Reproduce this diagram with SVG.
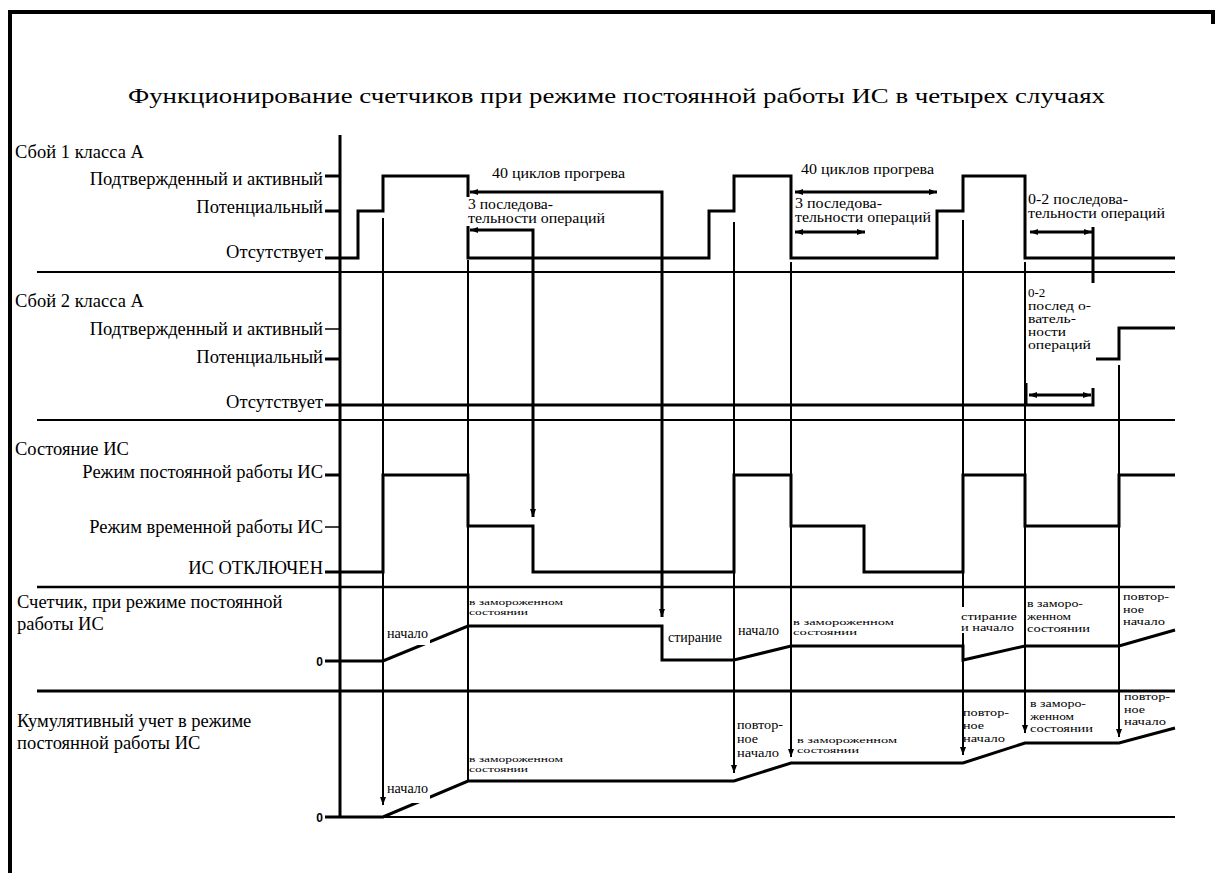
<svg xmlns="http://www.w3.org/2000/svg" width="1216" height="873" viewBox="0 0 1216 873">
<style>
text{font-family:"Liberation Serif","Times New Roman",serif;fill:#000}
.ttl{font-size:22px}
.lb{font-size:18.5px}
.an{font-size:15px}
.nt{font-size:13px}
.sm{font-size:14px}
.xs{font-size:11px}
.t2{font-size:9.5px}
.tn{font-size:8.5px}
.z{font-family:"Liberation Sans",Arial,sans-serif;font-size:12px;font-weight:bold}
.sig{fill:none;stroke:#000;stroke-width:3}
.sep{stroke:#000;stroke-width:2}
.sepb{stroke:#000;stroke-width:3}
.tk{stroke:#000;stroke-width:3}
.tk1{stroke:#000;stroke-width:1.5}
.v{fill:none;stroke:#000;stroke-width:2}
.vb{fill:none;stroke:#000;stroke-width:3}
.wb{fill:#fff}
</style>
<defs>
<marker id="ah" viewBox="0 0 8 6" refX="8" refY="3" markerWidth="8" markerHeight="6" markerUnits="userSpaceOnUse" orient="auto-start-reverse">
<path d="M0,0 L8,3 L0,6 z" fill="#000"/>
</marker>
</defs>
<rect width="1216" height="873" fill="#fff"/>

<g id="frame">
<path d="M10,873 V12 H1213 V24" fill="none" stroke="#000" stroke-width="4"/>
</g>

<g id="title">
<text class="ttl" x="128" y="103" textLength="977" lengthAdjust="spacingAndGlyphs">Функционирование счетчиков при режиме постоянной работы ИС в четырех случаях</text>
</g>

<g id="axis">
<line x1="340" y1="135" x2="340" y2="817" stroke="#000" stroke-width="3"/>
</g>

<g id="row-fault1">
<line class="sep" x1="37" y1="272" x2="1175" y2="272"/>
<text class="lb" x="15" y="158">Сбой 1 класса A</text>
<text class="lb" x="323" y="185" text-anchor="end">Подтвержденный и активный</text>
<text class="lb" x="323" y="213" text-anchor="end">Потенциальный</text>
<text class="lb" x="323" y="258" text-anchor="end">Отсутствует</text>
<line class="tk" x1="325" y1="176" x2="340" y2="176"/>
<line class="tk" x1="325" y1="211" x2="340" y2="211"/>
<path class="sig" d="M325,258 H358 V211 H383 V176 H468 V258 H709 V211 H734 V176 H791 V258 H937 V211 H963 V176 H1025 V258 H1175"/>
</g>

<g id="row-fault2">
<line class="sep" x1="37" y1="420" x2="1175" y2="420"/>
<text class="lb" x="15" y="307">Сбой 2 класса A</text>
<text class="lb" x="323" y="335" text-anchor="end">Подтвержденный и активный</text>
<text class="lb" x="323" y="363" text-anchor="end">Потенциальный</text>
<text class="lb" x="323" y="408" text-anchor="end">Отсутствует</text>
<line class="tk1" x1="325" y1="329" x2="340" y2="329"/>
<line class="tk" x1="325" y1="359" x2="340" y2="359"/>
<path class="sig" d="M325,405 H1093 V388"/>
<path class="sig" d="M1096,359 H1119 V328 H1175"/>
</g>

<g id="row-state">
<line x1="37" y1="587" x2="1175" y2="587" stroke="#000" stroke-width="2.5"/>
<text class="lb" x="15" y="455">Состояние ИС</text>
<text class="lb" x="323" y="478" text-anchor="end">Режим постоянной работы ИС</text>
<text class="lb" x="323" y="533" text-anchor="end">Режим временной работы ИС</text>
<text class="lb" x="323" y="574" text-anchor="end">ИС ОТКЛЮЧЕН</text>
<line class="tk" x1="325" y1="475" x2="340" y2="475"/>
<line class="tk1" x1="325" y1="527" x2="340" y2="527"/>
<path class="sig" d="M325,572 H383 V475 H468 V526 H533 V572 H734 V475 H791 V526 H864 V572 H963 V475 H1025 V526 H1119 V475 H1175"/>
</g>

<g id="row-counter">
<line class="sepb" x1="37" y1="691" x2="1175" y2="691"/>
<text class="lb" x="17" y="608">Счетчик, при режиме постоянной</text>
<text class="lb" x="17" y="630">работы ИС</text>
<text class="z" x="323" y="666" text-anchor="end">0</text>
<path class="sig" d="M325,661 H383 L468,626 H662 V660 H734 L791,646 H963 V660 L1025,646 H1119 L1175,630"/>
</g>

<g id="row-cumulative">
<text class="lb" x="17" y="727">Кумулятивный учет в режиме</text>
<text class="lb" x="17" y="749">постоянной работы ИС</text>
<text class="z" x="323" y="822" text-anchor="end">0</text>
<line class="sep" x1="325" y1="817" x2="1175" y2="817"/>
<path class="sig" d="M325,817 H383 L468,781 H734 L791,763 H963 L1025,743 H1119 L1175,728"/>
</g>

<g id="connectors">
<path class="v" d="M383,218 V805" marker-end="url(#ah)"/>
<path class="v" d="M468,260 V781"/>
<path class="vb" d="M470,230 H533 V517" marker-start="url(#ah)" marker-end="url(#ah)"/>
<path class="vb" d="M470,192 H662 V617" marker-start="url(#ah)" marker-end="url(#ah)"/>
<path class="v" d="M734,222 V773" marker-end="url(#ah)"/>
<path class="v" d="M791,262 V757" marker-end="url(#ah)"/>
<path class="v" d="M963,220 V755" marker-end="url(#ah)"/>
<path class="v" d="M1025,262 V733" marker-end="url(#ah)"/>
<path class="vb" d="M1093,227 V285"/>
<path class="v" d="M1119,365 V737" marker-end="url(#ah)"/>
<path class="vb" d="M795,192 H937" marker-start="url(#ah)" marker-end="url(#ah)"/>
<path class="vb" d="M795,232 H865" marker-start="url(#ah)" marker-end="url(#ah)"/>
<path class="vb" d="M1030,232 H1092" marker-start="url(#ah)" marker-end="url(#ah)"/>
<path class="vb" d="M1029,395 H1091" marker-start="url(#ah)" marker-end="url(#ah)"/>
<path class="vb" d="M1026,383 V405"/>
</g>

<g id="note-case1">
<text class="an" x="492" y="178" textLength="133" lengthAdjust="spacingAndGlyphs">40 циклов прогрева</text>
<rect class="wb" x="466" y="197" width="142" height="29"/>
<text class="an" x="468" y="209" textLength="85" lengthAdjust="spacingAndGlyphs">3 последова-</text>
<text class="an" x="468" y="223" textLength="137" lengthAdjust="spacingAndGlyphs">тельности операций</text>
</g>

<g id="note-case2">
<text class="an" x="801" y="174" textLength="133" lengthAdjust="spacingAndGlyphs">40 циклов прогрева</text>
<text class="an" x="795" y="208" textLength="87" lengthAdjust="spacingAndGlyphs">3 последова-</text>
<text class="an" x="795" y="222" textLength="136" lengthAdjust="spacingAndGlyphs">тельности операций</text>
</g>

<g id="note-case3">
<text class="an" x="1028" y="204" textLength="100" lengthAdjust="spacingAndGlyphs">0-2 последова-</text>
<text class="an" x="1028" y="218" textLength="137" lengthAdjust="spacingAndGlyphs">тельности операций</text>
</g>

<g id="note-fault2">
<rect class="wb" x="1028" y="283" width="68" height="104"/>
<text class="nt" x="1028" y="297">0-2</text>
<text class="nt" x="1028" y="310" textLength="63" lengthAdjust="spacingAndGlyphs">послед о-</text>
<text class="nt" x="1028" y="323" textLength="48" lengthAdjust="spacingAndGlyphs">ватель-</text>
<text class="nt" x="1028" y="336" textLength="38" lengthAdjust="spacingAndGlyphs">ности</text>
<text class="nt" x="1028" y="349" textLength="63" lengthAdjust="spacingAndGlyphs">операций</text>
</g>

<g id="labels-counter">
<rect class="wb" x="386" y="627" width="44" height="18"/>
<text class="sm" x="387" y="638" textLength="41" lengthAdjust="spacingAndGlyphs">начало</text>
<text class="tn" x="469" y="605" textLength="94" lengthAdjust="spacingAndGlyphs">в замороженном</text>
<text class="tn" x="469" y="614.5" textLength="59" lengthAdjust="spacingAndGlyphs">состоянии</text>
<text class="sm" x="668" y="642" textLength="54" lengthAdjust="spacingAndGlyphs">стирание</text>
<text class="sm" x="738" y="635" textLength="41" lengthAdjust="spacingAndGlyphs">начало</text>
<text class="tn" x="793" y="625" textLength="101" lengthAdjust="spacingAndGlyphs">в замороженном</text>
<text class="tn" x="793" y="634.5" textLength="64" lengthAdjust="spacingAndGlyphs">состоянии</text>
<rect class="wb" x="960" y="607" width="60" height="26"/>
<text class="t2" x="961" y="620" textLength="56" lengthAdjust="spacingAndGlyphs">стирание</text>
<text class="t2" x="961" y="630.5" textLength="53" lengthAdjust="spacingAndGlyphs">и начало</text>
<text class="xs" x="1027" y="607" textLength="56" lengthAdjust="spacingAndGlyphs">в заморо-</text>
<text class="xs" x="1027" y="619.5" textLength="44" lengthAdjust="spacingAndGlyphs">женном</text>
<text class="xs" x="1027" y="632" textLength="63" lengthAdjust="spacingAndGlyphs">состоянии</text>
<text class="xs" x="1123" y="600" textLength="46" lengthAdjust="spacingAndGlyphs">повтор-</text>
<text class="xs" x="1123" y="612.5" textLength="21" lengthAdjust="spacingAndGlyphs">ное</text>
<text class="xs" x="1123" y="625" textLength="42" lengthAdjust="spacingAndGlyphs">начало</text>
</g>

<g id="labels-cumulative">
<rect class="wb" x="386" y="780" width="44" height="23"/>
<text class="sm" x="387" y="793" textLength="41" lengthAdjust="spacingAndGlyphs">начало</text>
<text class="tn" x="469" y="762" textLength="94" lengthAdjust="spacingAndGlyphs">в замороженном</text>
<text class="tn" x="469" y="771.5" textLength="59" lengthAdjust="spacingAndGlyphs">состоянии</text>
<text class="nt" x="737" y="729" textLength="46" lengthAdjust="spacingAndGlyphs">повтор-</text>
<text class="nt" x="737" y="743" textLength="21" lengthAdjust="spacingAndGlyphs">ное</text>
<text class="nt" x="737" y="757" textLength="42" lengthAdjust="spacingAndGlyphs">начало</text>
<text class="tn" x="797" y="743" textLength="100" lengthAdjust="spacingAndGlyphs">в замороженном</text>
<text class="tn" x="797" y="752.5" textLength="62" lengthAdjust="spacingAndGlyphs">состоянии</text>
<text class="xs" x="963" y="716" textLength="46" lengthAdjust="spacingAndGlyphs">повтор-</text>
<text class="xs" x="963" y="729" textLength="21" lengthAdjust="spacingAndGlyphs">ное</text>
<text class="xs" x="963" y="742" textLength="42" lengthAdjust="spacingAndGlyphs">начало</text>
<text class="xs" x="1030" y="707" textLength="56" lengthAdjust="spacingAndGlyphs">в заморо-</text>
<text class="xs" x="1030" y="719.5" textLength="44" lengthAdjust="spacingAndGlyphs">женном</text>
<text class="xs" x="1030" y="732" textLength="63" lengthAdjust="spacingAndGlyphs">состоянии</text>
<text class="xs" x="1124" y="700" textLength="46" lengthAdjust="spacingAndGlyphs">повтор-</text>
<text class="xs" x="1124" y="712.5" textLength="21" lengthAdjust="spacingAndGlyphs">ное</text>
<text class="xs" x="1124" y="725" textLength="42" lengthAdjust="spacingAndGlyphs">начало</text>
</g>
</svg>
